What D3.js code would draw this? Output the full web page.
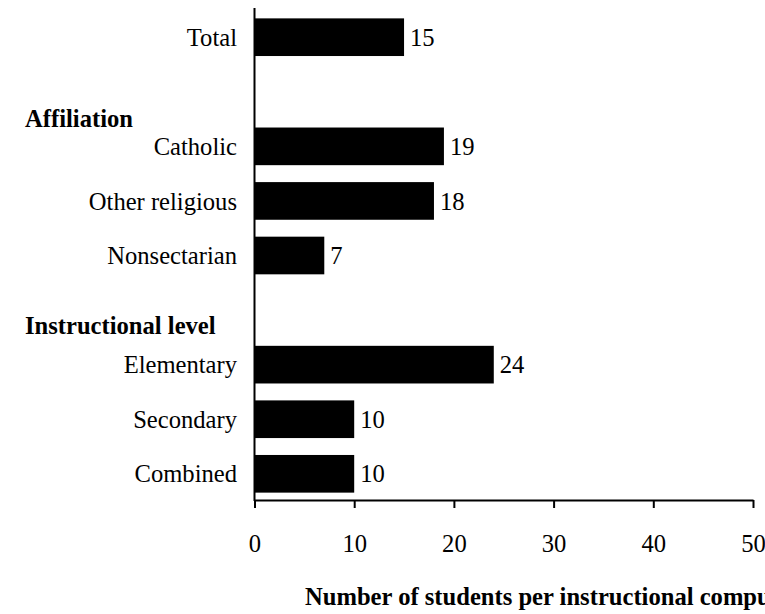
<!DOCTYPE html>
<html>
<head>
<meta charset="utf-8">
<script src="https://cdn.jsdelivr.net/npm/d3@7"></script>
<style>
  body { margin: 0; background: #fff; }
  svg { display: block; font-family: "Liberation Serif", "Times New Roman", serif; }
</style>
</head>
<body>
<svg id="chart" width="765" height="614"></svg>
<script>
// rows top to bottom ("" = blank spacer row)
var rows = ["Total", "", "Catholic", "Other religious", "Nonsectarian", "", "Elementary", "Secondary", "Combined"];
var values = [15, null, 19, 18, 7, null, 24, 10, 10];
var headers = ["Affiliation", "Instructional level"];
var headerRows = [1, 5];
var xTicks = [0, 10, 20, 30, 40, 50];
var xTitle = "Number of students per instructional computer";

var svg = d3.select("#chart");
var axisY = 500, axisTop = 8;
var fs = "24.6px";

var x = d3.scaleLinear().domain([0, 50]).range([254.5, 753]);
var y = d3.scaleBand()
    .domain(d3.range(rows.length))
    .range([axisTop, 503])
    .paddingInner(0.31)
    .paddingOuter(0.19);

// bars
var data = rows.map(function(r, i) { return {label: r, value: values[i], i: i}; });
var withVal = data.filter(function(d) { return d.value != null; });

svg.selectAll("rect.bar")
    .data(withVal)
    .enter()
    .append("rect")
    .attr("class", "bar")
    .attr("x", x(0))
    .attr("y", function(d) { return y(d.i); })
    .attr("width", function(d) { return x(d.value) - x(0); })
    .attr("height", y.bandwidth())
    .style("fill", "#000");

// value labels
svg.selectAll("text.val")
    .data(withVal)
    .enter()
    .append("text")
    .attr("class", "val")
    .attr("x", function(d) { return x(d.value) + 6; })
    .attr("y", function(d) { return y(d.i) + y.bandwidth() / 2; })
    .attr("dy", "0.35em")
    .style("font-size", fs)
    .text(function(d) { return d.value; });

// category labels
svg.selectAll("text.cat")
    .data(withVal)
    .enter()
    .append("text")
    .attr("class", "cat")
    .attr("x", 237)
    .attr("y", function(d) { return y(d.i) + y.bandwidth() / 2; })
    .attr("dy", "0.35em")
    .attr("text-anchor", "end")
    .style("font-size", fs)
    .text(function(d) { return d.label; });

// group headers (shift inside the spacer row)
var headerShift = [0.99, 0.78];
svg.selectAll("text.hdr")
    .data(headers)
    .enter()
    .append("text")
    .attr("class", "hdr")
    .attr("x", 25)
    .attr("y", function(d, i) { return y(headerRows[i]) + y.step() * headerShift[i]; })
    .style("font-size", fs)
    .style("font-weight", "bold")
    .text(function(d) { return d; });

// vertical axis line
svg.append("line")
    .attr("x1", x(0)).attr("x2", x(0))
    .attr("y1", axisTop).attr("y2", axisY + 1)
    .style("stroke", "#000").style("stroke-width", 2);

// x axis
var xAxis = svg.append("g")
    .attr("transform", "translate(0," + axisY + ")")
    .call(d3.axisBottom(x).tickValues(xTicks).tickSize(8).tickPadding(27).tickSizeOuter(0));
xAxis.select(".domain").style("stroke", "#000").style("stroke-width", 2);
xAxis.selectAll(".tick line").style("stroke", "#000").style("stroke-width", 2);
xAxis.selectAll(".tick text")
    .style("font-family", "Liberation Serif, serif")
    .style("font-size", fs)
    .style("fill", "#000");

// axis title
svg.append("text")
    .attr("x", 305)
    .attr("y", 605)
    .style("font-size", fs)
    .style("font-weight", "bold")
    .text(xTitle);
</script>
</body>
</html>
